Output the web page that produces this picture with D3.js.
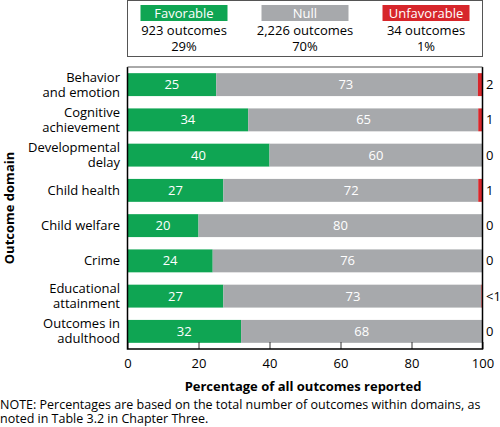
<!DOCTYPE html>
<html><head><meta charset="utf-8">
<script src="https://cdn.jsdelivr.net/npm/d3@7"></script>
<style>body{margin:0;background:#fff}svg{display:block;font-family:"Open Sans",sans-serif}</style>
</head><body><svg id="c" width="500" height="427"></svg>
<script>
const categories = [["Behavior","and emotion"],["Cognitive","achievement"],["Developmental","delay"],["Child health"],["Child welfare"],["Crime"],["Educational","attainment"],["Outcomes in","adulthood"]];
const favorable = [25,34,40,27,20,24,27,32];
const nullVals = [73,65,60,72,80,76,73,68];
const unfavorable = [1.3,1.2,0,1.2,0,0,0.3,0];
const unfavLabels = ["2","1","0","1","0","0","<1","0"];
const xTicks = [0,20,40,60,80,100];
const legendNames = ["Favorable","Null","Unfavorable"];
const legendCounts = ["923 outcomes","2,226 outcomes","34 outcomes"];
const legendPcts = ["29%","70%","1%"];
const colors = {fav:"#0fa553", nul:"#a7a9ac", unf:"#d7262b"};

const svg = d3.select("#c");
const L=127.5, R=482.5, T=67, B=349;
const x = d3.scaleLinear().domain([0,100]).range([L,R]);
const y = d3.scaleBand().domain(d3.range(categories.length)).range([T,B]).paddingInner(0.35).paddingOuter(0.175);

// legend
const lg = svg.append("g");
lg.append("rect").attr("x",127.5).attr("y",0.5).attr("width",355).attr("height",56).attr("fill","none").attr("stroke","#555").attr("stroke-width",1);
const lc=[184,305,426], lcol=[colors.fav,colors.nul,colors.unf];
legendNames.forEach((n,i)=>{
  lg.append("rect").attr("x",lc[i]-43.5).attr("y",5).attr("width",87).attr("height",16).attr("fill",lcol[i]);
  lg.append("text").attr("x",lc[i]).attr("y",18).attr("text-anchor","middle").attr("fill","#fff").attr("font-size",13).text(n);
  lg.append("text").attr("x",lc[i]).attr("y",35).attr("text-anchor","middle").attr("font-size",13).text(legendCounts[i]);
  lg.append("text").attr("x",lc[i]).attr("y",51).attr("text-anchor","middle").attr("font-size",13).text(legendPcts[i]);
});

// bars
const g = svg.append("g");
categories.forEach((c,i)=>{
  const y0=y(i), h=y.bandwidth();
  g.append("rect").attr("x",x(0)).attr("y",y0).attr("width",x(favorable[i])-x(0)).attr("height",h).attr("fill",colors.fav);
  g.append("rect").attr("x",x(favorable[i])).attr("y",y0).attr("width",x(100-unfavorable[i])-x(favorable[i])).attr("height",h).attr("fill",colors.nul);
  if(unfavorable[i]>0) g.append("rect").attr("x",x(100-unfavorable[i])).attr("y",y0).attr("width",x(100)-x(100-unfavorable[i])).attr("height",h).attr("fill",colors.unf);
  g.append("text").attr("x",x(favorable[i]/2)).attr("y",y0+h/2+4.5).attr("text-anchor","middle").attr("fill","#fff").attr("font-size",13).text(favorable[i]);
  g.append("text").attr("x",x(favorable[i]+nullVals[i]/2)).attr("y",y0+h/2+4.5).attr("text-anchor","middle").attr("fill","#fff").attr("font-size",13).text(nullVals[i]);
  g.append("text").attr("x",x(100)+3.5).attr("y",y0+h/2+4.5).attr("font-size",13).text(unfavLabels[i]);
  const t = g.append("text").attr("text-anchor","end").attr("font-size",13).attr("x",120);
  const cy=y0+h/2;
  if(c.length===2){
    t.append("tspan").attr("x",120).attr("y",cy-3).text(c[0]);
    t.append("tspan").attr("x",120).attr("y",cy+12).text(c[1]);
  } else {
    t.attr("y",cy+4.5).text(c[0]);
  }
});

// x axis
const ax = svg.append("g").attr("transform",`translate(0,${B})`)
  .call(d3.axisBottom(x).tickValues(xTicks).tickSizeInner(-7).tickSizeOuter(0).tickPadding(10));
ax.select(".domain").remove();
ax.selectAll(".tick line").attr("stroke","#333");
ax.selectAll("text").attr("font-size",13).attr("fill","#000").attr("font-family","Open Sans");

// frame
svg.append("path").attr("d",`M${L},${T}V${B}H${R}V${T}`).attr("fill","none").attr("stroke","#000").attr("stroke-width",1.5);
svg.append("line").attr("x1",L).attr("x2",R).attr("y1",T).attr("y2",T).attr("stroke","#555").attr("stroke-width",1);

// titles
svg.append("text").attr("x",303).attr("y",391).attr("text-anchor","middle").attr("font-size",13).attr("font-weight","bold").text("Percentage of all outcomes reported");
svg.append("text").attr("transform",`translate(14,${(T+B)/2}) rotate(-90)`).attr("text-anchor","middle").attr("font-size",13).attr("font-weight","bold").text("Outcome domain");
svg.append("text").attr("x",0).attr("y",409).attr("font-size",12.5).text("NOTE: Percentages are based on the total number of outcomes within domains, as");
svg.append("text").attr("x",0).attr("y",423).attr("font-size",12.5).text("noted in Table 3.2 in Chapter Three.");
</script></body></html>
